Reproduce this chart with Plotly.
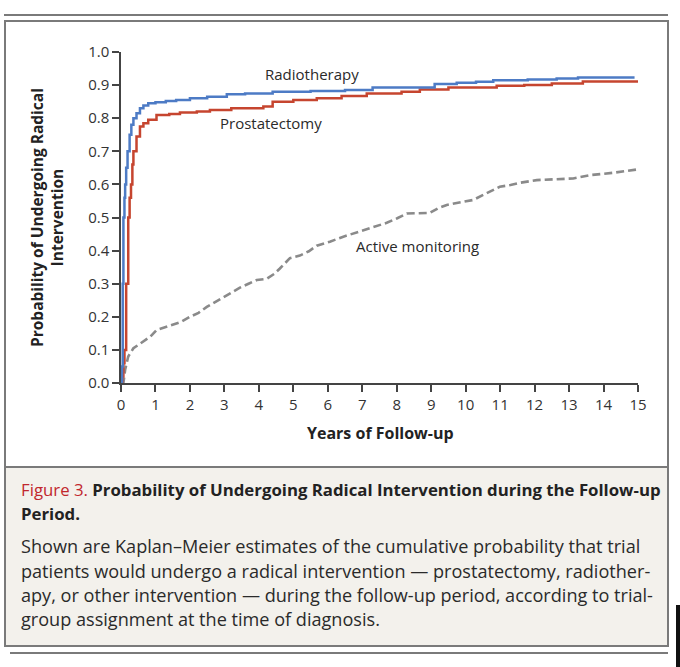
import plotly.graph_objects as go

# ---------------- data ----------------
rt_t = [0, 0.03, 0.05, 0.07, 0.1, 0.12, 0.15, 0.19, 0.25, 0.3, 0.36, 0.45, 0.55, 0.65, 0.79, 1.0, 1.3, 1.6,
        2.0, 2.5, 3.07, 3.6, 4.4, 5.5, 6.5, 7.3, 8.0, 9.1, 9.74, 10.3, 10.8, 11.8, 12.64, 13.26, 14.9]
rt_p = [0, 0.05, 0.3, 0.5, 0.56, 0.6, 0.65, 0.7, 0.75, 0.78, 0.8, 0.815, 0.83, 0.838, 0.845, 0.848, 0.852, 0.855,
        0.86, 0.865, 0.872, 0.875, 0.88, 0.882, 0.885, 0.893, 0.893, 0.903, 0.907, 0.91, 0.915, 0.917, 0.92, 0.923, 0.923]

pr_t = [0, 0.04, 0.07, 0.1, 0.15, 0.21, 0.25, 0.29, 0.33, 0.36, 0.45, 0.55, 0.65, 0.79, 1.03, 1.4, 1.71, 2.2,
        2.58, 3.2, 4.13, 4.4, 5.0, 5.68, 6.4, 7.13, 8.14, 8.67, 9.5, 10.9, 11.7, 12.5, 13.4, 15.0]
pr_p = [0, 0.02, 0.06, 0.1, 0.3, 0.5, 0.56, 0.6, 0.66, 0.7, 0.745, 0.775, 0.785, 0.795, 0.81, 0.813, 0.817, 0.82,
        0.825, 0.83, 0.835, 0.85, 0.855, 0.86, 0.867, 0.875, 0.88, 0.887, 0.893, 0.898, 0.9, 0.905, 0.911, 0.911]

am_t = [0, 0.07, 0.12, 0.21, 0.36, 0.5, 0.65, 0.85, 1.03, 1.25, 1.52, 1.75, 2.0, 2.25, 2.49, 2.7, 2.97, 3.2,
        3.45, 3.7, 3.94, 4.23, 4.45, 4.61, 4.9, 5.19, 5.45, 5.68, 6.06, 6.45, 6.75, 7.03, 7.3, 7.71, 8.0, 8.29,
        8.96, 9.2, 9.45, 9.8, 10.22, 10.6, 10.99, 11.3, 11.58, 12.06, 13.12, 13.6, 14.28, 14.96]
am_p = [0, 0.0, 0.04, 0.08, 0.105, 0.115, 0.125, 0.14, 0.16, 0.168, 0.178, 0.185, 0.2, 0.212, 0.23, 0.243,
        0.258, 0.272, 0.288, 0.3, 0.311, 0.315, 0.33, 0.346, 0.377, 0.385, 0.398, 0.415, 0.427, 0.442, 0.452,
        0.462, 0.47, 0.484, 0.497, 0.512, 0.514, 0.528, 0.538, 0.545, 0.553, 0.573, 0.593, 0.598, 0.605, 0.613,
        0.618, 0.628, 0.635, 0.645]

x_ticks = list(range(0, 16))
y_ticks = [0.0, 0.1, 0.2, 0.3, 0.4, 0.5, 0.6, 0.7, 0.8, 0.9, 1.0]

series_labels = ["Radiotherapy", "Prostatectomy", "Active monitoring"]
label_pos = [(5.55, 0.935), (4.35, 0.785), (8.6, 0.415)]

caption_title_red = "Figure 3."
caption_title = ["Probability of Undergoing Radical Intervention during the Follow-up", "Period."]
caption_body = [
    "Shown are Kaplan–Meier estimates of the cumulative probability that trial",
    "patients would undergo a radical intervention — prostatectomy, radiother-",
    "apy, or other intervention — during the follow-up period, according to trial-",
    "group assignment at the time of diagnosis.",
]

# ---------------- layout geometry ----------------
W, H = 680, 667
L, R, T, B = 121, 42, 52, 284
PW = W - L - R
PH = H - T - B


def px(x):
    return (x - L) / PW


def py(y):
    return (H - B - y) / PH


FONT = "Open Sans"
BLUE = "#4d7bc5"
RED = "#c6452f"
GRAY = "#8a8a8a"
FRAME = "#7a7a7a"

fig = go.Figure()
fig.add_trace(go.Scatter(x=am_t, y=am_p, mode="lines", line=dict(color=GRAY, width=2.6, dash="8px,4px"),
                         hoverinfo="skip"))
fig.add_trace(go.Scatter(x=pr_t, y=pr_p, mode="lines", line=dict(color=RED, width=2.5, shape="hv"),
                         hoverinfo="skip"))
fig.add_trace(go.Scatter(x=rt_t, y=rt_p, mode="lines", line=dict(color=BLUE, width=2.5, shape="hv"),
                         hoverinfo="skip"))

shapes = []
shapes.append(dict(type="line", xref="paper", yref="paper", x0=px(4), x1=px(668), y0=py(15), y1=py(15),
                   line=dict(color=FRAME, width=2)))
shapes.append(dict(type="rect", xref="paper", yref="paper", x0=px(5), x1=px(668), y0=py(467), y1=py(646),
                   fillcolor="#f3f1ec", line=dict(width=0), layer="below"))
shapes.append(dict(type="rect", xref="paper", yref="paper", x0=px(5), x1=px(668), y0=py(21), y1=py(646),
                   line=dict(color=FRAME, width=2), layer="above"))
shapes.append(dict(type="line", xref="paper", yref="paper", x0=px(5), x1=px(668), y0=py(467), y1=py(467),
                   line=dict(color=FRAME, width=2)))
shapes.append(dict(type="line", xref="paper", yref="paper", x0=px(10), x1=px(668), y0=py(653), y1=py(653),
                   line=dict(color=FRAME, width=2)))
shapes.append(dict(type="rect", xref="paper", yref="paper", x0=px(676), x1=px(682), y0=py(605), y1=py(667),
                   fillcolor="#111111", line=dict(width=0)))

annotations = []
for lab, (lx, ly) in zip(series_labels, label_pos):
    annotations.append(dict(x=lx, y=ly, xref="x", yref="y", text=lab, showarrow=False,
                            font=dict(family=FONT, size=15, color="#2a2a2a")))

annotations.append(dict(x=px(47), y=py(218), xref="paper", yref="paper", xanchor="center", yanchor="middle",
                        textangle=-90, showarrow=False,
                        text="<b>Probability of Undergoing Radical<br>Intervention</b>",
                        font=dict(family=FONT, size=15.5, color="#222222")))
annotations.append(dict(x=px(380), y=py(433), xref="paper", yref="paper", xanchor="center", yanchor="middle",
                        showarrow=False,
                        text="<b>Years of Follow-up</b>", font=dict(family=FONT, size=16, color="#222222")))

title_lines = ["<span style='color:#c1272d'>%s</span> <b>%s</b>" % (caption_title_red, caption_title[0]),
               "<b>%s</b>" % caption_title[1]]
for txt, yy in zip(title_lines, [490, 513]):
    annotations.append(dict(x=px(19), y=py(yy), xref="paper", yref="paper", xanchor="left", yanchor="middle",
                            showarrow=False, text=txt, font=dict(family=FONT, size=16.8, color="#222222")))
for txt, yy in zip(caption_body, [546, 571, 595, 619]):
    annotations.append(dict(x=px(19), y=py(yy), xref="paper", yref="paper", xanchor="left", yanchor="middle",
                            showarrow=False, text=txt, font=dict(family=FONT, size=18.1, color="#2a2a2a")))

fig.update_layout(
    width=W, height=H,
    margin=dict(l=L, r=R, t=T, b=B),
    paper_bgcolor="white", plot_bgcolor="white",
    showlegend=False,
    shapes=shapes, annotations=annotations,
    font=dict(family=FONT, size=14, color="#333333"),
    xaxis=dict(range=[0, 15], tickvals=x_ticks, ticktext=[str(v) for v in x_ticks], ticks="outside",
               ticklen=7, tickwidth=1.5, tickcolor="#444", showline=True, linecolor="#444", linewidth=1.5,
               showgrid=False, zeroline=False, tickfont=dict(family=FONT, size=15, color="#333")),
    yaxis=dict(range=[0, 1.0], tickvals=y_ticks, ticktext=["%.1f" % v for v in y_ticks], ticks="outside",
               ticklen=7, tickwidth=1.5, tickcolor="#444", showline=True, linecolor="#444", linewidth=1.5,
               showgrid=False, zeroline=False, tickfont=dict(family=FONT, size=15, color="#333")),
)

fig.write_html("out.html", config={"displayModeBar": False},
               post_script="document.body.style.margin='0';document.body.style.overflow='hidden';")
